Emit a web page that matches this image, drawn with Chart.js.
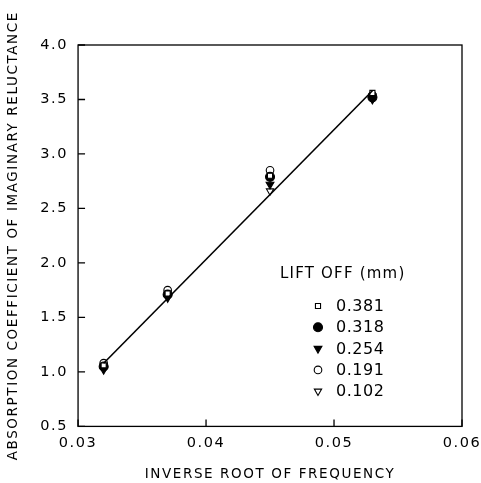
<!DOCTYPE html>
<html>
<head>
<meta charset="utf-8">
<script src="https://cdn.jsdelivr.net/npm/chart.js@4/dist/chart.umd.min.js"></script>
<style>
  html, body { margin: 0; padding: 0; background: #fff; }
  #wrap { width: 481px; height: 483px; }
</style>
</head>
<body>
<div id="wrap"><canvas id="chart" width="481" height="483"></canvas></div>
<script>
const xValues = [0.032, 0.037, 0.045, 0.053];
const liftOffs = ["0.381", "0.318", "0.254", "0.191", "0.102"];
const series381 = [1.06, 1.72, 2.80, 3.56];
const series318 = [1.05, 1.71, 2.79, 3.52];
const series254 = [1.02, 1.68, 2.72, 3.50];
const series191 = [1.08, 1.75, 2.85, 3.54];
const series102 = [1.04, 1.69, 2.66, 3.53];
const fitX = [0.032, 0.053];
const fitY = [1.08, 3.58];
const xTicks = [0.03, 0.04, 0.05, 0.06];
const yTicks = [0.5, 1.0, 1.5, 2.0, 2.5, 3.0, 3.5, 4.0];

const FONT = "'DejaVu Sans', sans-serif";

// marker styles per lift off
const styles = [
  { pointStyle: "rect", fill: "#fff", r: 3.6, rot: 0 },
  { pointStyle: "circle", fill: "#000", r: 4.5, rot: 0 },
  { pointStyle: "triangle", fill: "#000", r: 4.5, rot: 180 },
  { pointStyle: "circle", fill: "#fff", r: 3.8, rot: 0 },
  { pointStyle: "triangle", fill: "#fff", r: 4.2, rot: 180 }
];
const allSeries = [series381, series318, series254, series191, series102];

function toPoints(xs, ys) {
  return xs.map((x, i) => ({ x: x, y: ys[i] }));
}

const datasets = allSeries.map((s, i) => ({
  type: "scatter",
  label: liftOffs[i],
  data: toPoints(xValues, s),
  pointStyle: styles[i].pointStyle,
  rotation: styles[i].rot,
  radius: styles[i].r,
  backgroundColor: styles[i].fill,
  borderColor: "#000",
  borderWidth: 1.1
}));

datasets.unshift({
  type: "line",
  label: "fit",
  data: toPoints(fitX, fitY),
  borderColor: "#000",
  borderWidth: 1.6,
  pointRadius: 0,
  fill: false
});

// wider letter spacing like the original lettering
const spacingPlugin = {
  id: "spacing",
  beforeUpdate(chart) { chart.ctx.letterSpacing = "1.6px"; },
  beforeDraw(chart) { chart.ctx.letterSpacing = "1.6px"; }
};

// frame, inward ticks and legend
const framePlugin = {
  id: "frame",
  afterDraw(chart) {
    const ctx = chart.ctx;
    const a = chart.chartArea;
    const xs = chart.scales.x, ys = chart.scales.y;
    ctx.save();
    ctx.strokeStyle = "#000";
    ctx.lineWidth = 1.3;
    ctx.strokeRect(a.left, a.top, a.right - a.left, a.bottom - a.top);
    ctx.beginPath();
    xTicks.forEach(v => {
      const px = xs.getPixelForValue(v);
      ctx.moveTo(px, a.bottom); ctx.lineTo(px, a.bottom - 7);
    });
    yTicks.forEach(v => {
      const py = ys.getPixelForValue(v);
      ctx.moveTo(a.left, py); ctx.lineTo(a.left + 7, py);
    });
    ctx.stroke();

    // legend
    ctx.fillStyle = "#000";
    ctx.font = "15px " + FONT;
    ctx.letterSpacing = "1.2px";
    ctx.textBaseline = "middle";
    ctx.textAlign = "left";
    ctx.fillText("LIFT OFF (mm)", 280, 274);
    ctx.font = "16px " + FONT;
    ctx.letterSpacing = "0.5px";
    liftOffs.forEach((lab, i) => {
      const y = 306 + i * 21.3;
      const st = styles[i];
      ctx.fillStyle = st.fill;
      ctx.strokeStyle = "#000";
      ctx.lineWidth = 1.1;
      Chart.helpers.drawPoint(ctx, {
        pointStyle: st.pointStyle, radius: st.r, rotation: st.rot, borderWidth: 1.1
      }, 318, y);
      ctx.fillStyle = "#000";
      ctx.fillText(lab, 336, y + 1);
    });
    ctx.restore();
  }
};

new Chart(document.getElementById("chart"), {
  data: { datasets: datasets },
  options: {
    responsive: false,
    animation: false,
    layout: { padding: { top: 45, right: 19, left: 0, bottom: 0 } },
    plugins: { legend: { display: false }, tooltip: { enabled: false } },
    scales: {
      x: {
        type: "linear",
        min: 0.03, max: 0.06,
        afterBuildTicks: s => { s.ticks = xTicks.map(v => ({ value: v })); },
        afterFit: s => { s.paddingRight = 0; s.paddingLeft = 0; },
        grid: { display: false, drawTicks: false },
        border: { display: false },
        ticks: {
          color: "#000",
          font: { family: FONT, size: 14.5 },
          padding: 8,
          maxRotation: 0,
          callback: v => v.toFixed(2)
        },
        title: {
          display: true,
          text: "INVERSE ROOT OF FREQUENCY",
          color: "#000",
          font: { family: FONT, size: 13.5 },
          padding: { top: 7, bottom: 0 }
        }
      },
      y: {
        type: "linear",
        min: 0.5, max: 4.0,
        afterBuildTicks: s => { s.ticks = yTicks.map(v => ({ value: v })); },
        afterFit: s => { s.paddingTop = 0; s.paddingBottom = 0; },
        grid: { display: false, drawTicks: false },
        border: { display: false },
        ticks: {
          color: "#000",
          font: { family: FONT, size: 14.5 },
          padding: 10,
          callback: v => v.toFixed(1)
        },
        title: {
          display: true,
          text: "ABSORPTION COEFFICIENT OF IMAGINARY RELUCTANCE",
          color: "#000",
          font: { family: FONT, size: 13.5 },
          padding: { top: 5, bottom: 9 }
        }
      }
    }
  },
  plugins: [spacingPlugin, framePlugin]
});
</script>
</body>
</html>
